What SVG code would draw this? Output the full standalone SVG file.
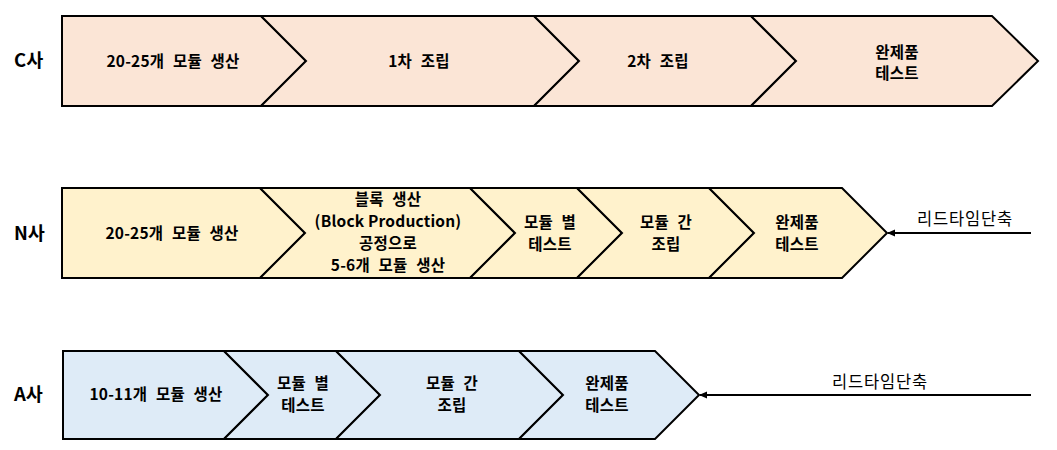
<svg xmlns="http://www.w3.org/2000/svg" width="1057" height="450" viewBox="0 0 1057 450">
  <style>
    .c { fill: #FBE5D6; }
    .n { fill: #FFF2CC; }
    .a { fill: #DEEBF7; }
    .shape { stroke: #000; stroke-width: 2; stroke-linejoin: miter; }
    .t { font-family: "Noto Sans CJK KR", "Noto Sans", sans-serif; font-size: 15.5px; font-weight: bold; fill: #000; text-anchor: middle; word-spacing: 5px; letter-spacing: 0.2px; }
    .ns { word-spacing: 0; }
    .lbl { font-family: "Noto Sans CJK KR", "Noto Sans", sans-serif; font-size: 18.5px; font-weight: bold; fill: #000; }
    .al { font-family: "Noto Sans CJK KR", "Noto Sans", sans-serif; font-size: 16.5px; fill: #000; text-anchor: middle; letter-spacing: 0.8px; }
    .conn { stroke: #000; stroke-width: 2; fill: none; }
  </style>
  <defs>
    <marker id="ah" markerWidth="8" markerHeight="8" refX="7" refY="4" orient="auto" markerUnits="userSpaceOnUse">
      <path d="M0,0.5 L8,4 L0,7.5 Z" fill="#000"/>
    </marker>
  </defs>

  <!-- Row labels -->
  <text class="lbl" x="14" y="67">C사</text>
  <text class="lbl" x="14" y="240">N사</text>
  <text class="lbl" x="14" y="401">A사</text>

  <!-- Row C -->
  <g id="c1"><polygon class="shape c" points="62,16 261,16 306,61 261,106 62,106"/>
    <text class="t" x="173" y="67">20-25개 모듈 생산</text></g>
  <g id="c2"><polygon class="shape c" points="261,16 534,16 579,61 534,106 261,106 306,61"/>
    <text class="t" x="419" y="67">1차 조립</text></g>
  <g id="c3"><polygon class="shape c" points="534,16 751,16 796,61 751,106 534,106 579,61"/>
    <text class="t" x="658" y="67">2차 조립</text></g>
  <g id="c4"><polygon class="shape c" points="751,16 992,16 1038,61 992,106 751,106 796,61"/>
    <text class="t" x="897" y="58">완제품</text><text class="t" x="897" y="79">테스트</text></g>

  <!-- Row N -->
  <g id="n1"><polygon class="shape n" points="62,188 260,188 305,233 260,278 62,278"/>
    <text class="t" x="172" y="239">20-25개 모듈 생산</text></g>
  <g id="n2"><polygon class="shape n" points="260,188 470,188 515,233 470,278 260,278 305,233"/>
    <text class="t" x="388" y="205">블록 생산</text>
    <text class="t ns" x="388" y="227">(Block Production)</text>
    <text class="t" x="388" y="249">공정으로</text>
    <text class="t" x="388" y="271">5-6개 모듈 생산</text></g>
  <g id="n3"><polygon class="shape n" points="470,188 577,188 622,233 577,278 470,278 515,233"/>
    <text class="t" x="550" y="228">모듈 별</text><text class="t" x="550" y="250">테스트</text></g>
  <g id="n4"><polygon class="shape n" points="577,188 709,188 754,233 709,278 577,278 622,233"/>
    <text class="t" x="666" y="228">모듈 간</text><text class="t" x="666" y="250">조립</text></g>
  <g id="n5"><polygon class="shape n" points="709,188 842,188 887,233 842,278 709,278 754,233"/>
    <text class="t" x="797" y="228">완제품</text><text class="t" x="797" y="250">테스트</text></g>

  <!-- Row A -->
  <g id="a1"><polygon class="shape a" points="63,351 224,351 268,395 224,439 63,439"/>
    <text class="t" x="156" y="400">10-11개 모듈 생산</text></g>
  <g id="a2"><polygon class="shape a" points="224,351 336,351 380,395 336,439 224,439 268,395"/>
    <text class="t" x="303" y="389">모듈 별</text><text class="t" x="303" y="411">테스트</text></g>
  <g id="a3"><polygon class="shape a" points="336,351 519,351 563,395 519,439 336,439 380,395"/>
    <text class="t" x="452" y="389">모듈 간</text><text class="t" x="452" y="411">조립</text></g>
  <g id="a4"><polygon class="shape a" points="519,351 655,351 699,395 655,439 519,439 563,395"/>
    <text class="t" x="607" y="389">완제품</text><text class="t" x="607" y="411">테스트</text></g>

  <!-- Connectors -->
  <g id="connectors">
    <line class="conn" x1="1031" y1="233" x2="888" y2="233" marker-end="url(#ah)"/>
    <text class="al" x="965" y="225">리드타임단축</text>
    <line class="conn" x1="1031" y1="395" x2="700" y2="395" marker-end="url(#ah)"/>
    <text class="al" x="880" y="388">리드타임단축</text>
  </g>
</svg>
